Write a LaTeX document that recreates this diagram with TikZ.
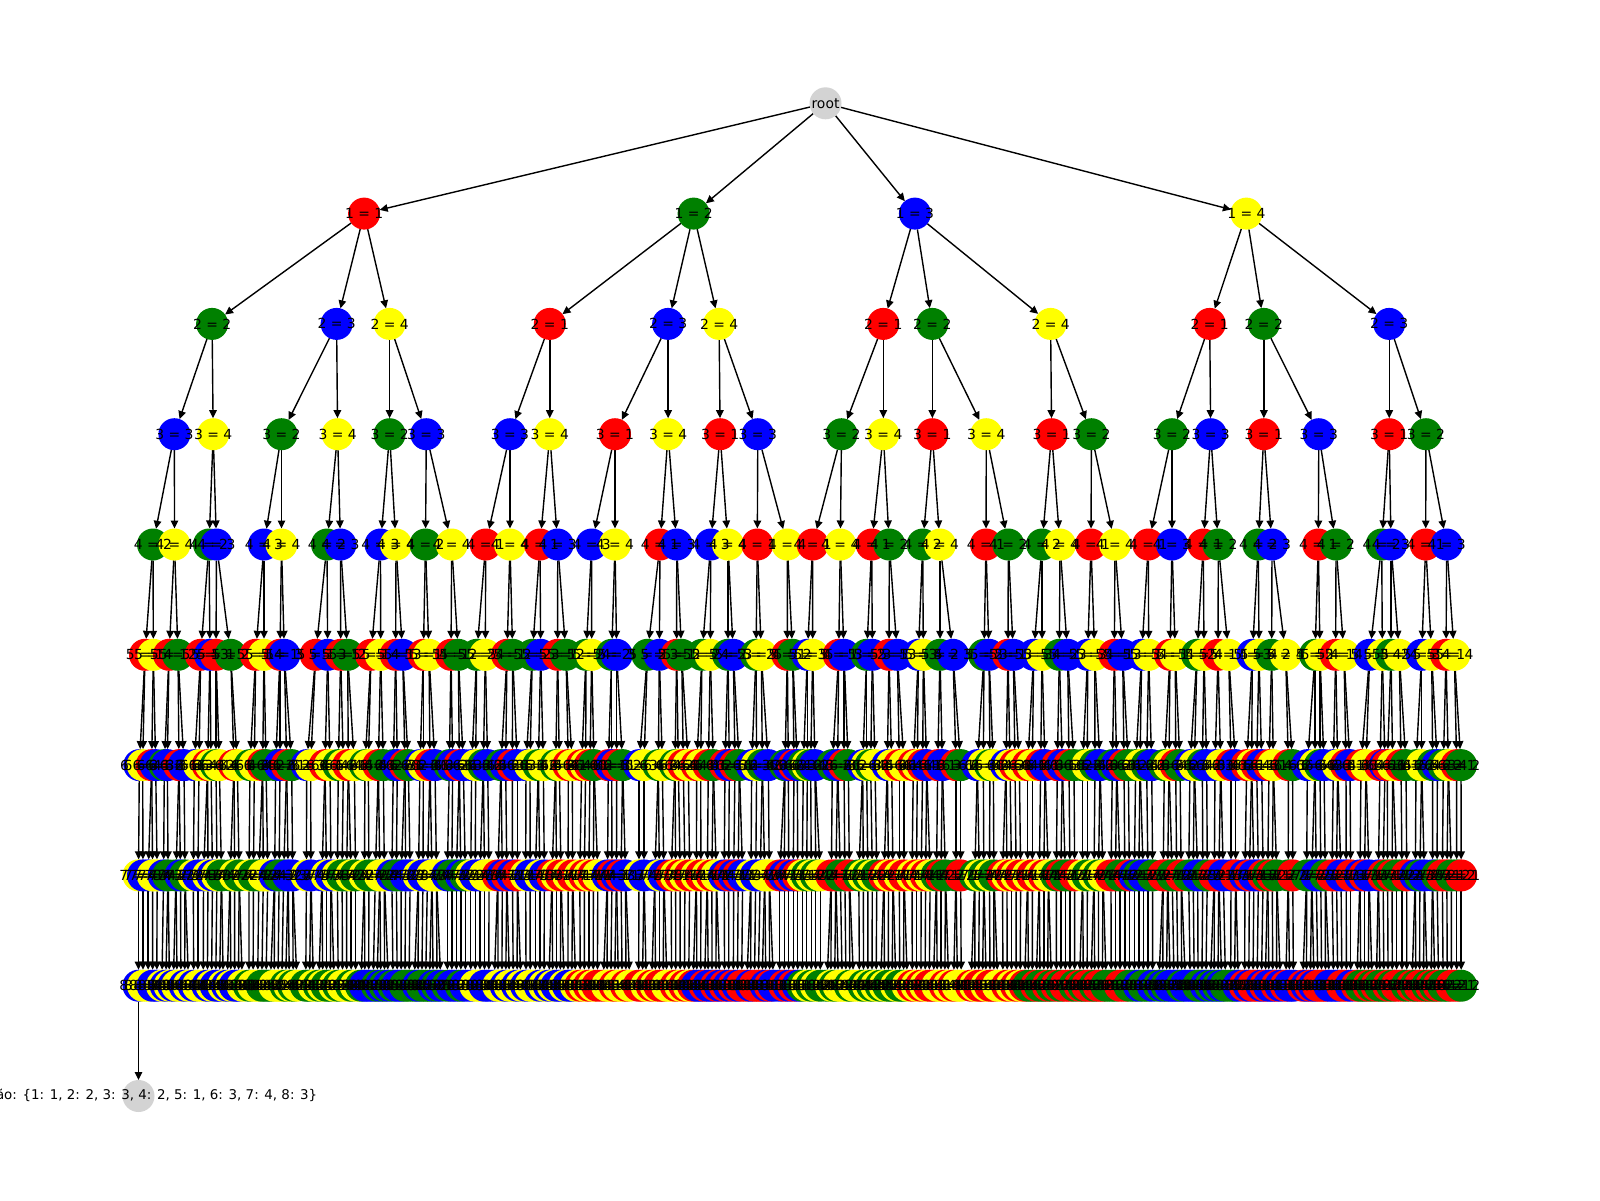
\documentclass[tikz,border=0pt]{standalone}
\usepackage{fontspec}
\setmainfont{DejaVu Sans}
\usetikzlibrary{arrows.meta}
\pgfdeclarelayer{bg}\pgfdeclarelayer{fg}\pgfsetlayers{bg,main,fg}
\definecolor{c1}{RGB}{255,0,0}
\definecolor{c2}{RGB}{0,128,0}
\definecolor{c3}{RGB}{0,0,255}
\definecolor{c4}{RGB}{255,255,0}
\definecolor{cg}{RGB}{211,211,211}
\tikzset{
  disc/.style={circle,minimum size=32pt,inner sep=0pt,outer sep=0pt,draw=none},
  lab/.style={inner sep=0pt,outer sep=0pt,text=black,font=\fontsize{13.9}{15}\selectfont},
  sollab/.style={inner sep=0pt,outer sep=0pt,text=black,font=\fontsize{13.4}{15}\selectfont},
  conn/.style={-{Stealth[inset=0pt,length=8pt,width=7.5pt]},line width=1.4pt,black}
}
\makeatletter\let\stripPt\strip@pt\makeatother
% counters per level
\foreach \i in {1,...,8}{\expandafter\global\expandafter\newcount\csname v\i\endcsname}
\foreach \i in {1,...,6}{\expandafter\global\expandafter\newcount\csname lc\i\endcsname}
\newcount\kidA \newcount\kidB \newcount\passno \newcount\walklimit
\newcount\nseven \newcount\neight \newcount\ii \newcount\cur \newcount\prevv \newcount\sepv
\newdimen\tmpd
\newif\ifok \newif\ifdbl
% y of each level
\foreach \i in {0,...,9}{\pgfmathsetmacro\t{103.3+110.3*\i}\expandafter\xdef\csname Y\i\endcsname{\t}}
% position tables: level, origin, divisor, values
\newcommand\loadpts[4]{\foreach \z in {#4}{\pgfmathsetmacro\t{#2+\z/#3}%
  \global\advance\csname lc#1\endcsname by 1
  \expandafter\xdef\csname P#1@\the\csname lc#1\endcsname\endcsname{\t}}}
\loadpts{1}{1}{1}{363.1,692.6,913.9,1245.4}
\loadpts{2}{1}{1}{211.1,335.6,388.6,548.8,667.1,718.1,882.3,931.3,1049.6,1208.7,1262.8,1388.2}
\loadpts{3}{1}{1}{173.4,212.2,280.5,336.6,388.6,425.3,509,548.8,614,667.1,719.1,756.8,840.5,882.3,931.3,985.3,1050.6,1090.4,1171,1209.7,1262.8,1317.8,1388.2,1424.9}
\loadpts{4}{0}{1}{153,174.5,209,216.5,264,281.5,327,340.5,380.5,396,425.5,451.7,
485.7,510,540,557.7,591.7,615,660,676.7,710.7,728,757.3,787.3,
812.7,840.3,871.7,889.3,922.7,940,986,1008.3,1042,1060,1091,1115,
1148.3,1172,1203.3,1218.3,1258.3,1272,1318.3,1336,1381.7,1391,1425.7,1446.7}
\loadpts{5}{110}{3}{105,130,177,204,272,300,318,362,437,462,510,523,617,653,692,713,783,812,857,878,940,957}
\loadpts{5}{440}{3}{33,55,110,136,201,218,277,302,353,378,438,455,515,530,622,658,710,725,786,811,864,880,948,964}
\loadpts{5}{770}{3}{52,68,112,128,206,222,290,307,357,382,445,460,510,549,642,657,714,730,791,816,868,893,953,974}
\loadpts{5}{1100}{3}{43,68,125,146,210,226,291,312,354,386,457,477,515,557,645,660,707,732,809,847,873,898,965,995,1038,1063}
\loadpts{6}{110}{3}{88,98,125,137,163,172,207,222,253,267,293,303,318,328,372,382,420,433,458,468,497,510,530,545,590,602,645,660,685,700,715,733,765,775,805,820,850,862,885,895,930,940,960,975}
\loadpts{6}{440}{3}{28,38,58,70,95,107,130,143,183,197,217,232,258,270,295,310,347,358,385,397,425,437,450,462,505,515,530,548,597,612,655,667,705,715,730,745,770,782,805,820,855,868,885,898,935,950,967,985}
\loadpts{6}{770}{3}{45,55,72,82,100,112,122,135,187,203,222,235,278,290,302,315,352,365,388,402,430,442,458,470,503,517,558,572,622,640,660,670,708,720,735,748,773,787,812,825,862,877,897,912,938,952,975,990}
\loadpts{6}{1100}{3}{37,50,72,85,107,120,140,155,193,207,227,240,270,283,307,320,345,362,393,407,440,455,470,485,507,520,565,578,622,645,660,672,700,713,738,750,783,798,840,855,862,878,903,918,948,965,998,1012,1030,1045,1070,1083}
\foreach \i in {1,...,6}{\global\csname lc\i\endcsname=0 }
% colouring constraints of the search tree
\def\nq#1{\ifnum\tv=\csname v#1\endcsname\relax\okfalse\fi}
\def\testval#1#2{\oktrue\def\tv{#2}%
  \ifcase#1\relax\or
  \or\nq1%
  \or\nq1\nq2%
  \or\nq1\nq3%
  \or\nq3\nq4%
  \or\nq4\nq5%
  \or\nq1\nq4\nq6%
  \or\nq1\nq2\nq7%
  \fi}
% spread a row: desired positions #1@i (sp), n=#2, minimum gap in \sepv, result #3@i (sp)
\def\sweep#1#2#3{%
  \ii=1 \prevv=\csname #1@1\endcsname\relax
  \expandafter\xdef\csname F@1\endcsname{\the\prevv}%
  \loop\ifnum\ii<#2
    \advance\ii by 1
    \cur=\csname #1@\the\ii\endcsname\relax
    \advance\prevv by \sepv
    \ifnum\cur>\prevv \prevv=\cur\fi
    \expandafter\xdef\csname F@\the\ii\endcsname{\the\prevv}%
  \repeat
  \ii=#2 \prevv=\csname #1@\the\ii\endcsname\relax
  \expandafter\xdef\csname #3@\the\ii\endcsname{\the\numexpr(\csname F@\the\ii\endcsname+\prevv)/2\relax}%
  \loop\ifnum\ii>1
    \advance\ii by -1
    \cur=\csname #1@\the\ii\endcsname\relax
    \advance\prevv by -\sepv
    \ifnum\cur<\prevv \prevv=\cur\fi
    \expandafter\xdef\csname #3@\the\ii\endcsname{\the\numexpr(\csname F@\the\ii\endcsname+\prevv)/2\relax}%
  \repeat}
\def\act#1#2#3{%
  \ifcase\passno\or
    % 1: discs
    \ifnum#1=8
      \global\advance\neight by 1
      \tmpd=\csname R8@\the\neight\endcsname sp\relax
      \expandafter\xdef\csname X#2#3\endcsname{\stripPt\tmpd}%
    \fi
    \edef\hx{\csname X#2#3\endcsname}\edef\hy{\csname Y#1\endcsname}%
    \node[disc,fill=c#3] (n#2#3) at (\hx,\hy) {};%
  \or
    % 2: connectors
    \draw[conn] (n#2) -- (n#2#3);%
  \or
    % 3: labels
    \node[lab] (t#2#3) at (n#2#3) {#1 = #3};%
  \or
    % 4: positions down to level 6, wanted positions of level 7
    \ifnum#1<7
      \global\advance\csname lc#1\endcsname by 1
      \expandafter\xdef\csname X#2#3\endcsname{\csname P#1@\the\csname lc#1\endcsname\endcsname}%
    \else
      \global\advance\kidA by 1
      \def\off{0pt}%
      \dblfalse
      \ifnum\csname v6\endcsname=\csname v1\endcsname\relax\dbltrue\fi
      \ifdbl\ifnum\kidA=1 \def\off{-2pt}\else\def\off{2pt}\fi\fi
      \global\advance\nseven by 1
      \tmpd=\dimexpr\csname X#2\endcsname pt+\off\relax
      \expandafter\xdef\csname A7@\the\nseven\endcsname{\number\tmpd}%
    \fi
  \or
    % 5: level 7 settled, wanted positions of level 8
    \ifnum#1=7
      \global\advance\nseven by 1
      \tmpd=\csname R7@\the\nseven\endcsname sp\relax
      \expandafter\xdef\csname X#2#3\endcsname{\stripPt\tmpd}%
    \fi
    \ifnum#1=8
      \global\advance\kidB by 1
      \def\off{0pt}%
      \dblfalse
      \ifnum\csname v7\endcsname=\csname v2\endcsname\relax\dbltrue\fi
      \ifdbl\ifnum\kidB=1 \def\off{-2pt}\else\def\off{2pt}\fi\fi
      \global\advance\neight by 1
      \tmpd=\dimexpr\csname X#2\endcsname pt+\off\relax
      \expandafter\xdef\csname A8@\the\neight\endcsname{\number\tmpd}%
    \fi
  \fi}
\def\visit#1#2#3{%
  \global\csname v#1\endcsname=#3\relax
  \act{#1}{#2}{#3}%
  \ifnum#1=6 \global\kidA=0 \fi
  \ifnum#1=7 \global\kidB=0 \fi
  \expandafter\walklevel\expandafter{\the\numexpr#1+1\relax}{#2#3}}
\def\tryval#1#2#3{\testval{#1}{#3}\ifok\visit{#1}{#2}{#3}\fi}
\def\walklevel#1#2{\ifnum#1<\walklimit
  \tryval{#1}{#2}{1}\tryval{#1}{#2}{2}\tryval{#1}{#2}{3}\tryval{#1}{#2}{4}\fi}
\begin{document}
\begin{tikzpicture}[x=1pt,y=-1pt]
\useasboundingbox (0,0) rectangle (1600,1200);
\begin{pgfonlayer}{bg}
\fill[white] (0,0) rectangle (1600,1200);
\end{pgfonlayer}
% positions
\passno=4 \walklimit=8 \walklevel{1}{}
\sepv=\dimexpr4.5pt\relax
\sweep{A7}{\nseven}{R7}%
\global\nseven=0
\passno=5 \walklimit=9 \walklevel{1}{}
\sepv=\dimexpr3.8pt\relax
\sweep{A8}{\neight}{R8}%
\global\neight=0
% discs
\node[disc,fill=cg] (n) at (825.5,103.3) {};
\passno=1 \walklevel{1}{}
\edef\hx{\csname X12321343\endcsname}
\node[disc,fill=cg] (sol) at (\hx,1096) {};
% connectors
\begin{pgfonlayer}{bg}
\passno=2 \walklevel{1}{}
\draw[conn] (n12321343) -- (sol);
\end{pgfonlayer}
% labels
\begin{pgfonlayer}{fg}
\passno=3 \walklevel{1}{}
\node[lab] (troot) at (n) {root};
\node[sollab] (tsol) at (sol) {Solução: \{1: 1, 2: 2, 3: 3, 4: 2, 5: 1, 6: 3, 7: 4, 8: 3\}};
\end{pgfonlayer}
\end{tikzpicture}
\end{document}
